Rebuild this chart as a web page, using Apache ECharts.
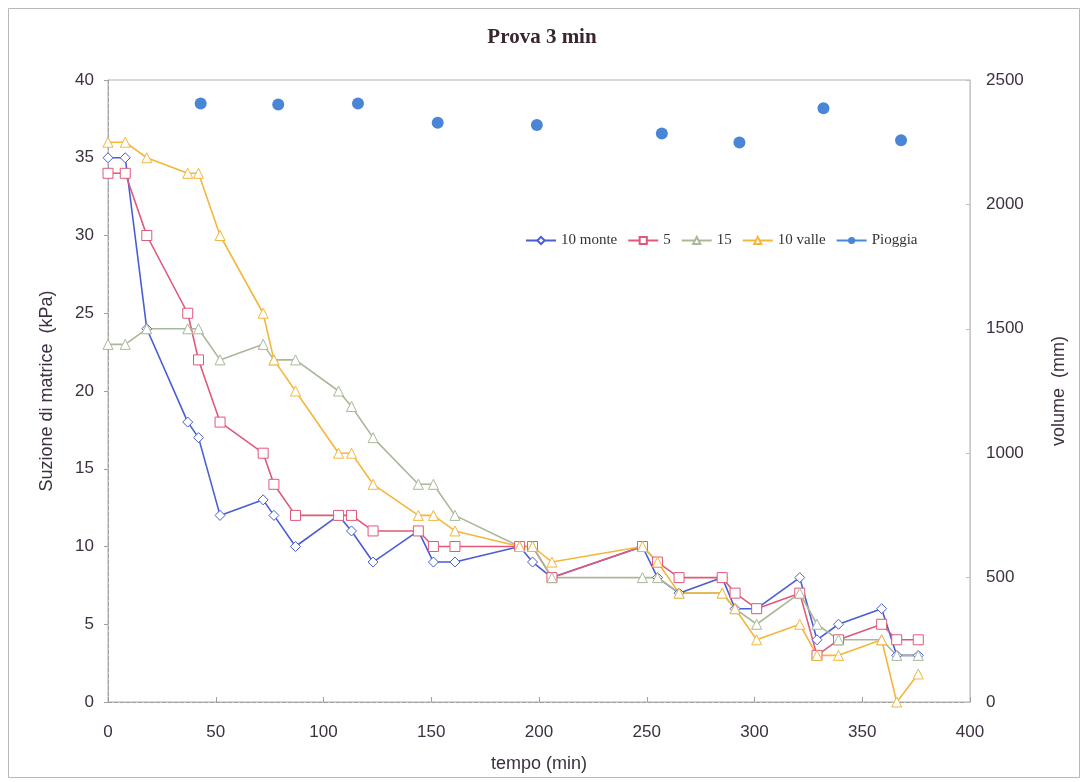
<!DOCTYPE html>
<html>
<head>
<meta charset="utf-8">
<script src="https://cdn.jsdelivr.net/npm/echarts@6/dist/echarts.min.js"></script>
<style>
html,body{margin:0;padding:0;background:#fff;}
#chart{width:1084px;height:782px;}
</style>
</head>
<body>
<div id="chart"></div>
<script>
// ---- data ----
const times = [0, 8, 18, 37, 42, 52, 72, 77, 87, 107, 113, 123, 144, 151, 161, 191, 197, 206, 248, 255, 265, 285, 291, 301, 321, 329, 339, 359, 366, 376];
const monte10 = [35, 35, 24, 18, 17, 12, 13, 12, 10, 12, 11, 9, 11, 9, 9, 10, 9, 8, 10, 8, 7, 8, 6, 6, 8, 4, 5, 6, 3, 3];
const s5      = [34, 34, 30, 25, 22, 18, 16, 14, 12, 12, 12, 11, 11, 10, 10, 10, 10, 8, 10, 9, 8, 8, 7, 6, 7, 3, 4, 5, 4, 4];
const s15     = [23, 23, 24, 24, 24, 22, 23, 22, 22, 20, 19, 17, 14, 14, 12, 10, 10, 8, 8, 8, 7, 7, 6, 5, 7, 5, 4, 4, 3, 3];
const valle10 = [36, 36, 35, 34, 34, 30, 25, 22, 20, 16, 16, 14, 12, 12, 11, 10, 10, 9, 10, 9, 7, 7, 6, 4, 5, 3, 3, 4, 0, 1.8];
const rainTimes = [43, 79, 116, 153, 199, 257, 293, 332, 368];
const rainVolume = [2406, 2402, 2406, 2328, 2319, 2285, 2249, 2386, 2258];
const seriesNames = ['10 monte', '5', '15', '10 valle', 'Pioggia'];

const zip = (xs, ys) => xs.map((x, i) => [x, ys[i]]);

const axisText = {color: '#3d3040', fontFamily: 'Liberation Sans', fontSize: 17};
const plain = v => String(v);

const chart = echarts.init(document.getElementById('chart'), null, {renderer: 'canvas'});
function lineSeries(name, vals, color, symbol) {
  return {
    name: name, type: 'line', yAxisIndex: 0,
    data: zip(times, vals),
    symbol: symbol, symbolSize: 10,
    lineStyle: {color: color, width: 1.6},
    itemStyle: {color: '#ffffff', borderColor: color, borderWidth: 1},
    emphasis: {disabled: true},
    z: 3
  };
}
chart.setOption({
  animation: false,
  backgroundColor: '#ffffff',
  title: {
    text: 'Prova 3 min', left: 'center', top: 22,
    textStyle: {fontFamily: 'Liberation Serif', fontSize: 21, fontWeight: 'bold', color: '#3a2530'}
  },
  graphic: [{
    type: 'rect', left: 6, top: 6, z: -10,
    shape: {width: 1071, height: 769},
    style: {fill: 'none', stroke: '#b8b8b8', lineWidth: 1}
  }],
  legend: {
    left: 520, top: 228,
    itemWidth: 30, itemHeight: 9, itemGap: 10,
    textStyle: {fontFamily: 'Liberation Serif', fontSize: 15, color: '#333'},
    data: [
      {name: '10 monte'}, {name: '5'}, {name: '15'}, {name: '10 valle'},
      {name: 'Pioggia', lineStyle: {opacity: 1, width: 2, color: '#4a86d8'}}
    ]
  },
  grid: {left: 108, right: 114, top: 80, bottom: 80, show: true, borderColor: '#b0b0b0', borderWidth: 1},
  xAxis: {
    type: 'value', min: 0, max: 400, interval: 50,
    name: 'tempo (min)', nameLocation: 'middle', nameGap: 53,
    nameTextStyle: {color: '#3d3040', fontFamily: 'Liberation Sans', fontSize: 18},
    axisLine: {lineStyle: {color: '#a0a0a0', type: 'dashed'}},
    axisTick: {inside: true, length: 5, lineStyle: {color: '#a0a0a0'}},
    axisLabel: Object.assign({margin: 22, formatter: plain}, axisText),
    splitLine: {show: false}
  },
  yAxis: [{
    type: 'value', min: 0, max: 40, interval: 5, position: 'left',
    name: 'Suzione di matrice  (kPa)', nameLocation: 'middle', nameGap: 52, nameRotate: 90,
    nameTextStyle: {color: '#3d3040', fontFamily: 'Liberation Sans', fontSize: 18},
    axisLine: {show: true, lineStyle: {color: '#a0a0a0', type: 'dashed'}},
    axisTick: {show: true, length: 4, lineStyle: {color: '#a0a0a0'}},
    axisLabel: Object.assign({margin: 14, formatter: plain}, axisText),
    splitLine: {show: false}
  }, {
    type: 'value', min: 0, max: 2500, interval: 500, position: 'right',
    name: 'volume  (mm)', nameLocation: 'middle', nameGap: 80, nameRotate: 90,
    nameTextStyle: {color: '#3d3040', fontFamily: 'Liberation Sans', fontSize: 18},
    axisLine: {show: true, lineStyle: {color: '#c8c8c8'}},
    axisTick: {show: true, inside: true, length: 4, lineStyle: {color: '#c0c0c0'}},
    axisLabel: Object.assign({margin: 16, formatter: plain}, axisText),
    splitLine: {show: false}
  }],
  series: [
    lineSeries(seriesNames[0], monte10, '#4a5cd6', 'diamond'),
    lineSeries(seriesNames[1], s5, '#e0587a', 'rect'),
    lineSeries(seriesNames[2], s15, '#a9b898', 'triangle'),
    lineSeries(seriesNames[3], valle10, '#f5b63c', 'triangle'),
    {
      name: seriesNames[4], type: 'line', yAxisIndex: 1,
      data: zip(rainTimes, rainVolume),
      symbol: 'circle', symbolSize: 12,
      lineStyle: {opacity: 0, color: '#4a86d8'},
      itemStyle: {color: '#4a86d8'},
      emphasis: {disabled: true},
      z: 4
    }
  ]
});
</script>
</body>
</html>
